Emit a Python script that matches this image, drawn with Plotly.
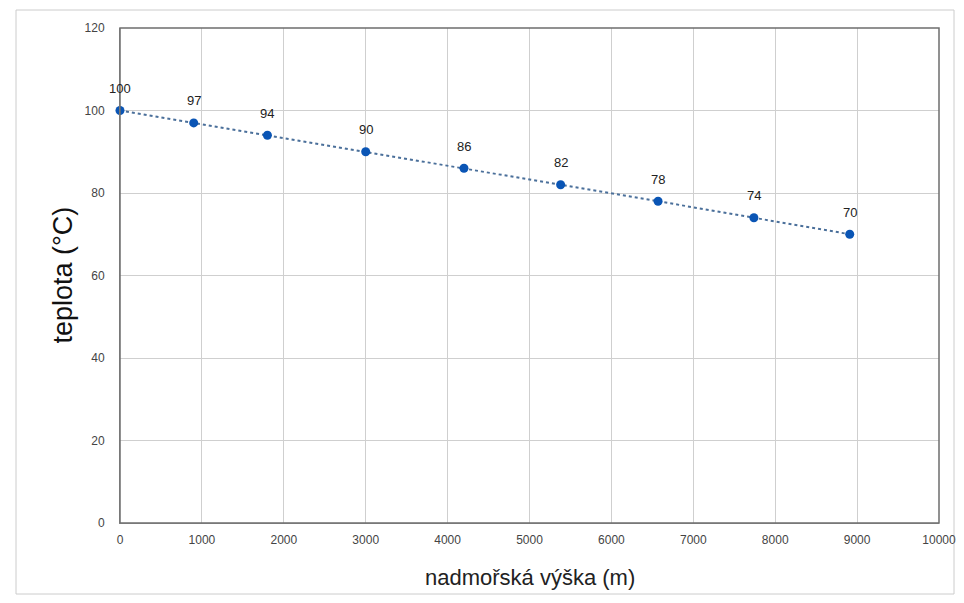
import plotly.graph_objects as go

altitude_m = [0, 900, 1800, 3000, 4200, 5380, 6570, 7740, 8910]
temperature_c = [100, 97, 94, 90, 86, 82, 78, 74, 70]
x_ticks = list(range(0, 10001, 1000))
y_ticks = list(range(0, 121, 20))

x_title = "nadmořská výška (m)"
y_title = "teplota (°C)"

# page body has an 8px margin; figure sized so page = 964x603
OFF = 8
W, H = 948, 587
L, R, T, B = 112, 17, 20, 72
pw, ph = W - L - R, H - T - B

def px(xs):  # screen x -> paper
    return (xs - OFF - L) / pw

def py(ys):  # screen y -> paper
    return (H - B - (ys - OFF)) / ph

FONT = "Liberation Sans, Arial, sans-serif"

fig = go.Figure()
fig.add_trace(go.Scatter(
    x=altitude_m, y=temperature_c,
    mode="lines+markers",
    line=dict(color="#4a6f9a", width=2, dash="dot"),
    marker=dict(color="#0a55b5", size=9),
    cliponaxis=False,
    showlegend=False,
))

annotations = [
    dict(x=xv, y=yv, xref="x", yref="y", text=str(yv), showarrow=False,
         yshift=22, xanchor="center", yanchor="middle",
         font=dict(family=FONT, size=13, color="#222222"))
    for xv, yv in zip(altitude_m, temperature_c)
]

axis_common = dict(
    showgrid=True, gridcolor="#cfcfcf", gridwidth=1,
    zeroline=False, showline=True, linecolor="#9a9a9a", linewidth=1,
    ticks="", tickfont=dict(family=FONT, size=12, color="#444444"),
    mirror=False, ticklabeloverflow="allow",
)

fig.update_xaxes(range=[0, 10000], tickvals=x_ticks, ticktext=[str(v) for v in x_ticks],
                 ticklabelstandoff=6, **axis_common)
fig.update_yaxes(range=[0, 120], tickvals=y_ticks, ticktext=[str(v) for v in y_ticks],
                 ticklabelstandoff=12, **axis_common)

annotations += [
    dict(text=y_title, xref="paper", yref="paper", x=px(62), y=0.5, showarrow=False,
         textangle=-90, xanchor="center", yanchor="middle",
         font=dict(family=FONT, size=27, color="#111111")),
    dict(text=x_title, xref="paper", yref="paper", x=0.5, y=py(577), showarrow=False,
         xanchor="center", yanchor="middle",
         font=dict(family=FONT, size=22, color="#222222")),
]

fig.update_layout(
    width=W, height=H,
    margin=dict(l=L, r=R, t=T, b=B, pad=0, autoexpand=False),
    paper_bgcolor="white", plot_bgcolor="white",
    shapes=[
        dict(type="rect", xref="paper", yref="paper", x0=0, x1=1, y0=0, y1=1,
             line=dict(color="#6e6e6e", width=1.5), fillcolor="rgba(0,0,0,0)", layer="above"),
        dict(type="rect", xref="paper", yref="paper", x0=px(16), x1=px(954), y0=py(594), y1=py(10),
             line=dict(color="#cccccc", width=1), fillcolor="rgba(0,0,0,0)", layer="below"),
    ],
    annotations=annotations,
)

fig.write_html("out.html")
